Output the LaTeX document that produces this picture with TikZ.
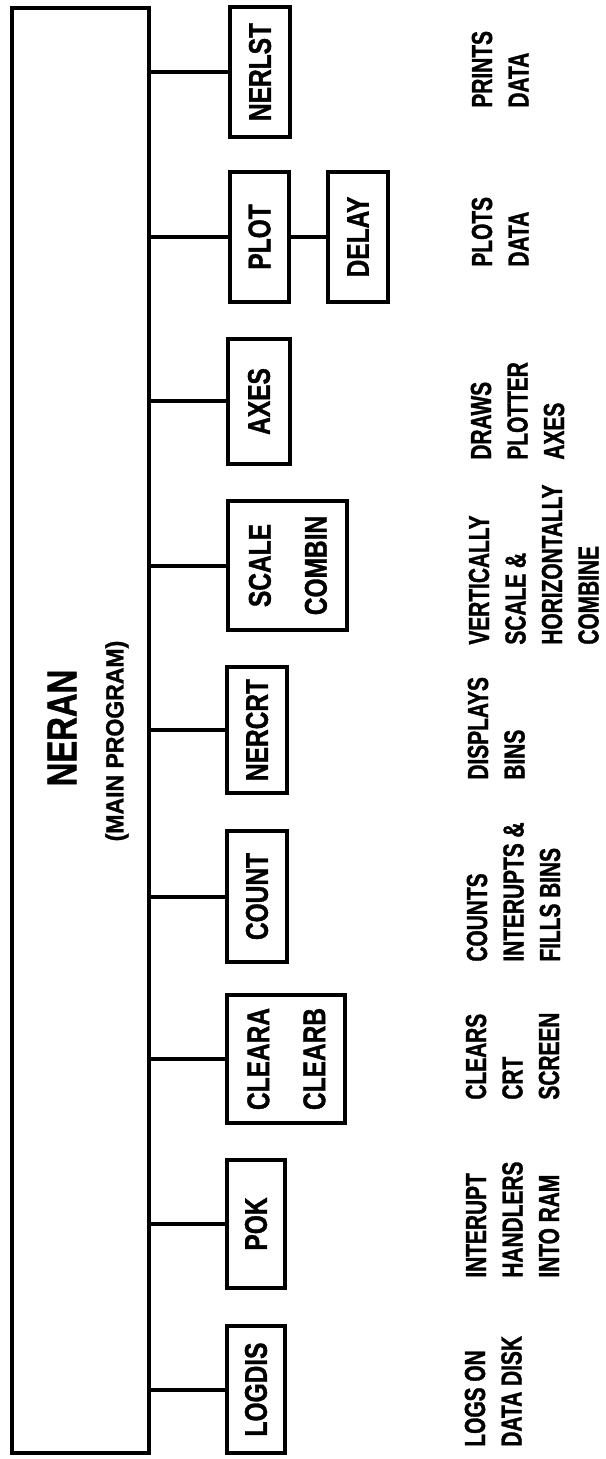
\documentclass[tikz,border=0pt]{standalone}
\usepackage{fontspec}
\usetikzlibrary{fit}
\newfontfamily\boxfnt{Liberation Sans Bold}[FakeStretch=0.78, FakeBold=1.2]
\newfontfamily\descfnt{Liberation Sans Bold}[FakeStretch=0.72, FakeBold=1.2]
\newfontfamily\subfnt{Liberation Sans Bold}[FakeStretch=0.92, FakeBold=1.2]
\newcommand\mylines[1]{\begin{tabular}[t]{@{}l@{}}#1\end{tabular}}
\newcommand\boxlines[1]{\begin{tabular}{@{}c@{}}#1\end{tabular}}
\tikzset{
  progbox/.style={draw, line width=2pt, inner sep=0pt},
  conn/.style={line width=2pt},
  boxlabel/.style={rotate=90, inner sep=0pt, font=\boxfnt\fontsize{15.7}{28}\selectfont},
  desc/.style={rotate=90, inner sep=0pt, anchor=base west, font=\descfnt\fontsize{14.5}{18.25}\selectfont},
}
\begin{document}
\begin{tikzpicture}[x=0.5pt,y=-0.5pt]
\useasboundingbox (0,0) rectangle (605,1459);
% main program box
\node[progbox, fit={(12,8) (149,1453)}] (main) {};
\node[rotate=90, inner sep=0pt, font=\boxfnt\fontsize{21}{24}\selectfont] (neran) at (62,728) {NERAN};
\node[rotate=90, inner sep=0pt, font=\subfnt\fontsize{12.5}{14}\selectfont] (mainprog) at (117,741) {(MAIN PROGRAM)};
% subroutine boxes
\node[progbox, fit={(230,7) (290,137)}] (nerlst) {};
\node[progbox, fit={(230,172) (289,302)}] (plot) {};
\node[progbox, fit={(328,172) (388,302)}] (delay) {};
\node[progbox, fit={(228,339) (290,464)}] (axes) {};
\node[progbox, fit={(228,501) (347,630)}] (scale) {};
\node[progbox, fit={(227,667) (287,793)}] (nercrt) {};
\node[progbox, fit={(227,831) (287,962)}] (count) {};
\node[progbox, fit={(227,995) (345,1123)}] (cleara) {};
\node[progbox, fit={(227,1160) (285,1288)}] (pok) {};
\node[progbox, fit={(227,1326) (285,1453)}] (logdis) {};
% labels
\node[boxlabel] (nerlst-t) at (nerlst.center) {NERLST};
\node[boxlabel] (plot-t) at (plot.center) {PLOT};
\node[boxlabel] (delay-t) at (delay.center) {DELAY};
\node[boxlabel] (axes-t) at (axes.center) {AXES};
\node[boxlabel] (scale-t) at (scale.center) {\boxlines{SCALE\\COMBIN}};
\node[boxlabel] (nercrt-t) at (nercrt.center) {NERCRT};
\node[boxlabel] (count-t) at (count.center) {COUNT};
\node[boxlabel] (cleara-t) at (cleara.center) {\boxlines{CLEARA\\CLEARB}};
\node[boxlabel] (pok-t) at (pok.center) {POK};
\node[boxlabel] (logdis-t) at (logdis.center) {LOGDIS};
% connectors
\foreach \b in {nerlst,plot,axes,scale,nercrt,count,cleara,pok,logdis}
  \draw[conn] (main.east |- \b.west) -- (\b.west);
\draw[conn] (plot.east) -- (delay.west);
% descriptions
\node[desc] (d-nerlst) at (492,108) {\mylines{PRINTS\\DATA}};
\node[desc] (d-plot) at (492,267) {\mylines{PLOTS\\DATA}};
\node[desc] (d-axes) at (491,460) {\mylines{DRAWS\\PLOTTER\\AXES}};
\node[desc] (d-scale) at (489,645) {\mylines{VERTICALLY\\SCALE \&\\HORIZONTALLY\\COMBINE}};
\node[desc] (d-nercrt) at (488,780) {\mylines{DISPLAYS\\BINS}};
\node[desc] (d-count) at (487,962) {\mylines{COUNTS\\INTERUPTS \&\\FILLS BINS}};
\node[desc] (d-cleara) at (486,1100) {\mylines{CLEARS\\CRT\\SCREEN}};
\node[desc] (d-pok) at (486,1278) {\mylines{INTERUPT\\HANDLERS\\INTO RAM}};
\node[desc] (d-logdis) at (485,1447) {\mylines{LOGS ON\\DATA DISK}};
\end{tikzpicture}
\end{document}
